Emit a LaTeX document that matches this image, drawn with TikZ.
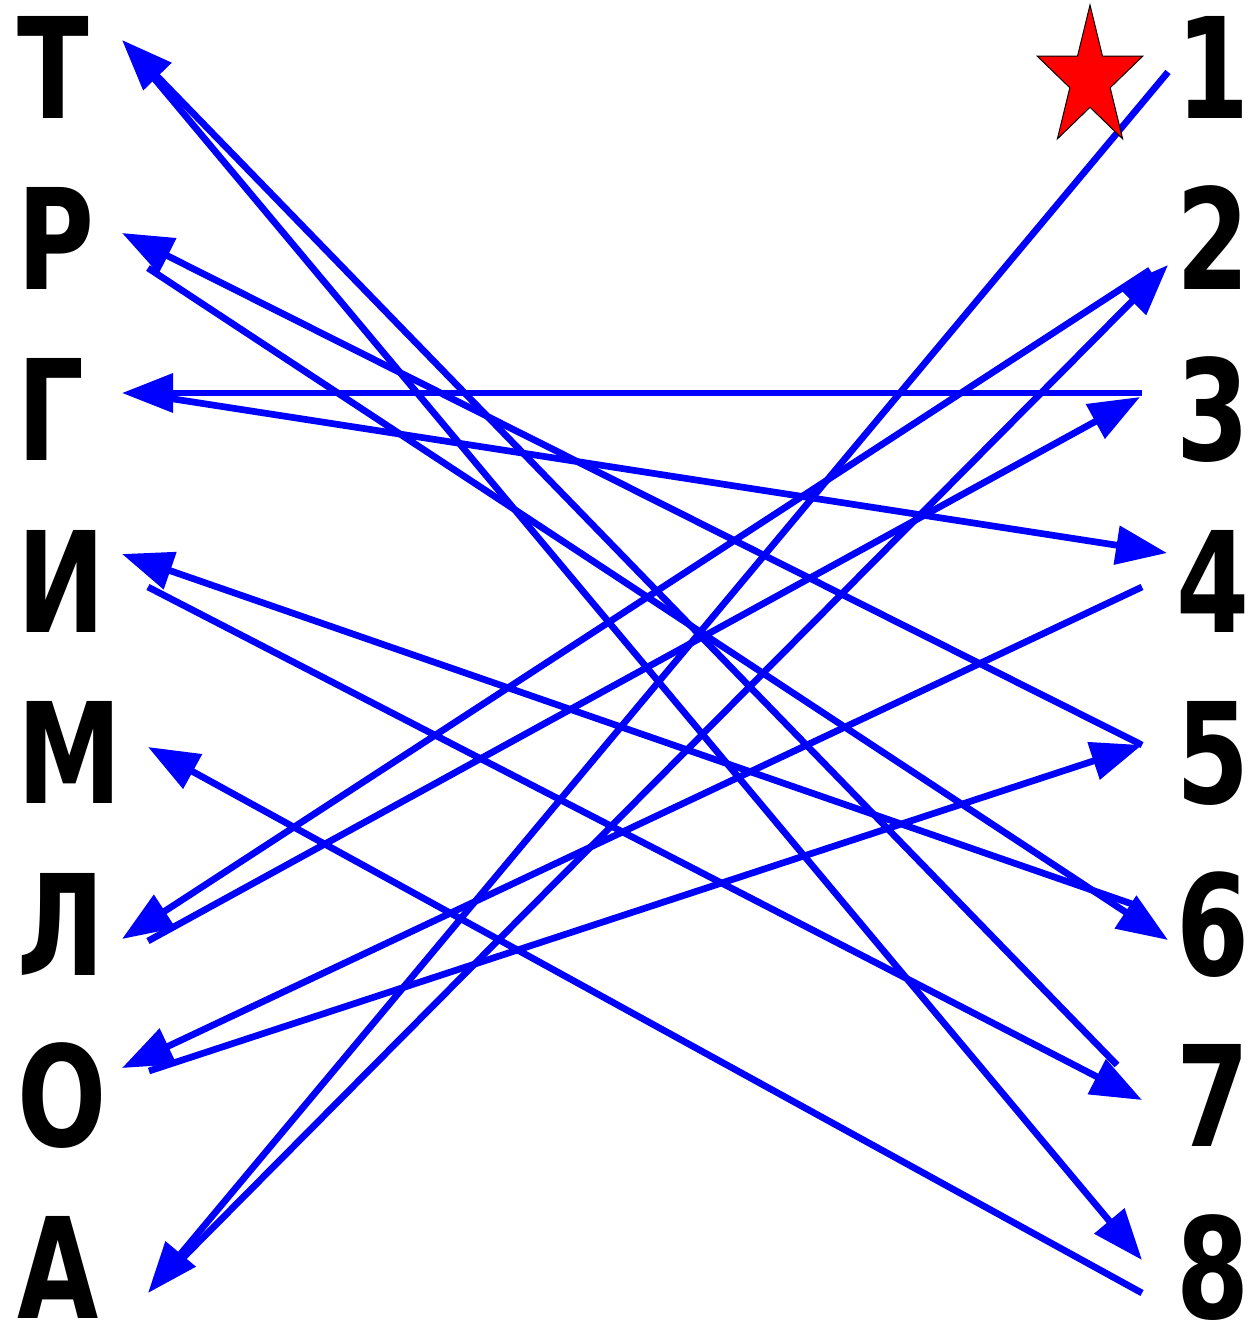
\documentclass[tikz,border=0pt]{standalone}
\usepackage{fontspec}
\usepackage{tikz}
\usetikzlibrary{arrows.meta}
\newfontfamily\labelfont{DejaVu Sans}[FakeStretch=0.75]

\begin{document}
\begin{tikzpicture}[
  x=1pt, y=-1pt,
  letter/.style={anchor=base west, inner sep=0pt, font=\labelfont\bfseries\fontsize{140}{140}\selectfont},
  digit/.style={anchor=base, inner sep=0pt, font=\labelfont\bfseries\fontsize{140}{140}\selectfont},
  arr/.style={-{Triangle[length=51pt,width=38pt]}, line width=6.7pt, blue},
  redstar/.style={fill=red, draw=black, line width=1pt, line join=miter}
]
\useasboundingbox (0,0) rectangle (1251,1325);

\foreach \ch [count=\k] in {Т,Р,Г,И,М,Л,О,А}
  \node[letter] (L\k) at (17,{118+171.43*(\k-1)}) {\ch};
\foreach \k in {1,...,8}
  \node[digit] (D\k) at (1213,{118+171.43*(\k-1)}) {\k};

\foreach \n/\x/\y in {L1-in/122/40, L1-out/148/71, L2-in/122/233, L2-out/148/268,
    L3-in/122/393, L3-out/135/393, L4-in/122/554, L4-out/148/587, L5-in/148/747,
    L6-in/122/939, L6-out/148/941, L7-in/122/1068, L7-out/149/1071,
    L8-in/148/1293, L8-out/165/1276,
    D1-out/1168/72, D2-in/1168/265, D2-out/1150/270, D3-in/1140/397, D3-out/1142/393,
    D4-in/1167/553, D4-out/1142/587, D5-in/1142/745, D5-out/1142/745,
    D6-in/1168/940, D6-out/1135/905, D7-in/1142/1100, D7-out/1117/1065,
    D8-in/1142/1260, D8-out/1142/1293}
  \coordinate (\n) at (\x,\y);

\foreach \a/\b in {D1/L8, L8/D2, D2/L6, L6/D3, D3/L3, L3/D4, D4/L7, L7/D5,
    D5/L2, L2/D6, D6/L4, L4/D7, D7/L1, L1/D8, D8/L5}
  \draw[arr] (\a-out) -- (\b-in);

\begin{scope}[shift={(1090,79)}, xscale=0.75]
  \draw[redstar] (-90:74) -- (-54:28.3) -- (-18:74) -- (18:28.3) -- (54:74)
    -- (90:28.3) -- (126:74) -- (162:28.3) -- (198:74) -- (234:28.3) -- cycle;
\end{scope}
\end{tikzpicture}
\end{document}
